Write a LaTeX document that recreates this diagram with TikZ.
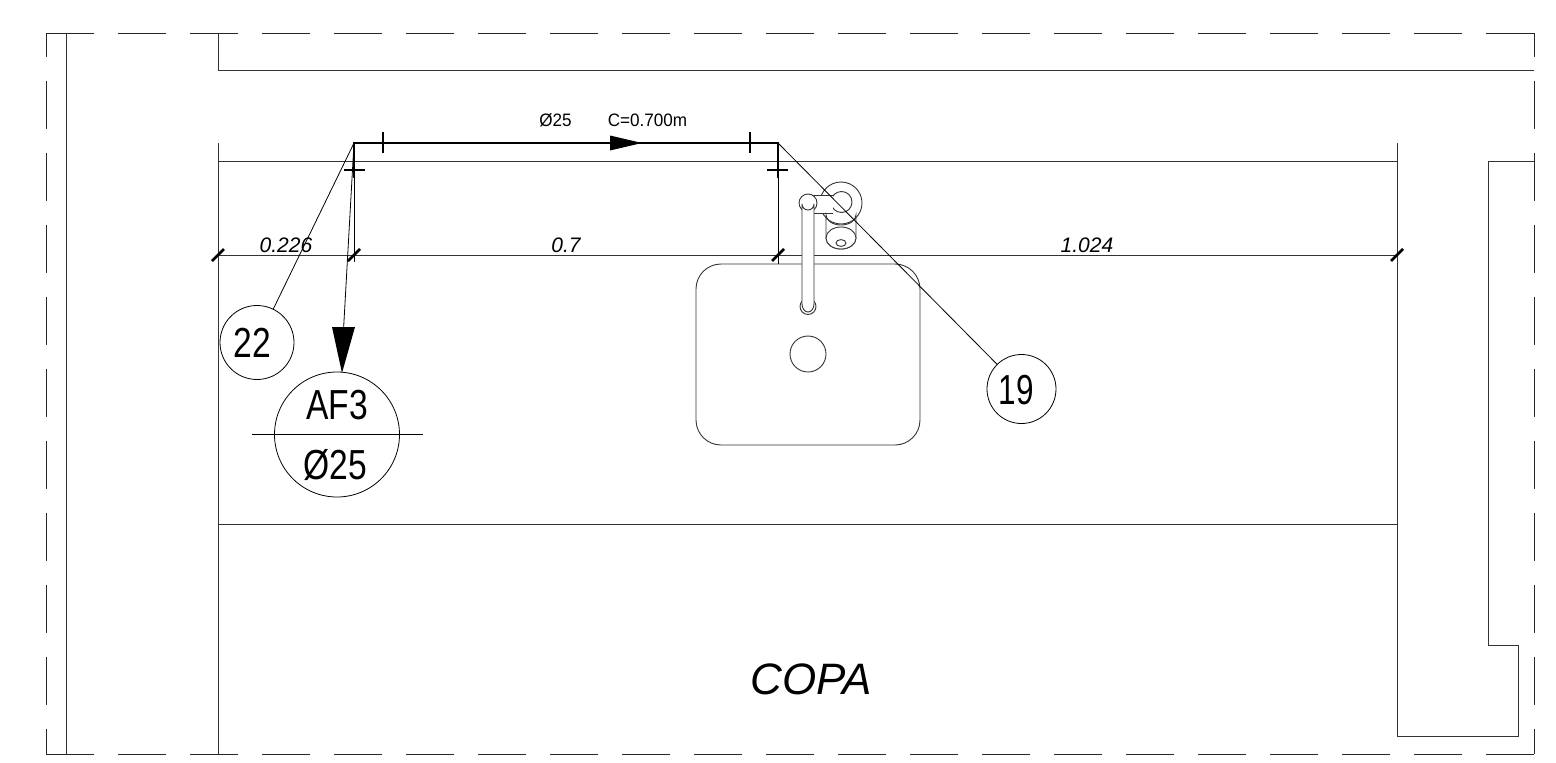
\documentclass[tikz,border=0pt]{standalone}
\usepackage{fontspec}
\setmainfont{Liberation Sans}
\usetikzlibrary{arrows.meta}
\newcommand{\cad}[3]{\scalebox{#1}[1]{\fontsize{#2}{#2}\selectfont #3}}
\tikzset{
  wall/.style={draw=black!80,line width=1pt},
  dashwall/.style={draw=black!85,line width=1pt,dash pattern=on 48pt off 24pt},
  pipe/.style={draw=black,line width=1.9pt},
  thin leader/.style={draw=black,line width=0.8pt},
  tick/.style={draw=black,line width=1.2pt},
  slash/.style={draw=black,line width=2.6pt},
  fixture/.style={draw=black!80,line width=0.9pt,fill=white},
  bubble/.style={circle,draw=black,line width=0.8pt,inner sep=0pt,fill=white},
  txt/.style={inner sep=0pt,text=black},
}
\begin{document}
\begin{tikzpicture}[x=1pt,y=-1pt]
\useasboundingbox (0,0) rectangle (1556,763);
\fill[white] (0,0) rectangle (1556,763);
% dashed outline
\draw[dashwall] (46,33) -- (1534,33);
\draw[dashwall] (46,754) -- (1534,754);
\draw[dashwall,dash phase=24pt] (46,33) -- (46,754);
\draw[dashwall,dash phase=24pt] (1534,33) -- (1534,754);
% walls
\draw[wall] (66,33) -- (66,754);
\draw[wall] (218,33) -- (218,70) -- (1534,70);
\draw[wall] (218,143) -- (218,754);
\draw[wall] (218,161) -- (1397,161);
\draw[wall] (218,524) -- (1397,524);
\draw[wall] (1397,143) -- (1397,736) -- (1518,736) -- (1518,645) -- (1488,645) -- (1488,161) -- (1534,161);
% sink
\draw[fixture,fill=none,rounded corners=25pt] (696,264) rectangle (920,445);
\node[circle,draw=black!80,line width=0.9pt,minimum size=36pt,inner sep=0pt] (drain) at (808,354) {};
% dimension line
\coordinate (d0) at (218,255);
\coordinate (d1) at (354,255);
\coordinate (d2) at (778,255);
\coordinate (d3) at (1397,255);
\draw[wall] (d0) -- (d3);
\foreach \p in {d0,d1,d2,d3}{\draw[slash] ([shift={(-6,6)}]\p) -- ([shift={(6,-6)}]\p);}
\node[txt] (t1) at (286,245) {\cad{1}{21}{\itshape 0.226}};
\node[txt] (t2) at (566,245) {\cad{1}{21}{\itshape 0.7}};
\node[txt] (t3) at (1087,245) {\cad{1}{21}{\itshape 1.024}};
% faucet
\draw[fixture] (841,203) circle (21);
\draw[fixture] (841.5,202) circle (10.5);
\fill[white] (812,195) rectangle (833,213);
\draw[fixture,fill=none] (812,195) -- (833,195);
\draw[fixture,fill=none] (812,213) -- (833,213);
\draw[fixture] (826,215) arc[start angle=180,end angle=0,x radius=15,y radius=10] -- (856,238) arc[start angle=360,end angle=180,x radius=15,y radius=-11] -- cycle;
\draw[fixture] (841,238) ellipse (15 and 11);
\draw[fixture] (841,243) ellipse (5 and 3.4);
\draw[fixture] (808,203) circle (9);
\draw[fixture] (808,306.5) circle (8);
\draw[fixture] (802,304) -- (802,204) arc[start angle=180,end angle=0,radius=6] -- (814,304) arc[start angle=0,end angle=-180,x radius=6,y radius=-8] -- cycle;
% pipe
\coordinate (pa) at (354,143);
\coordinate (pb) at (778,143);
\draw[pipe] (354,178) -- (pa) -- (pb) -- (778,178);
\draw[thin leader] (354,178) -- (354,262);
\draw[thin leader] (778,178) -- (778,264);
\draw[tick] (383,132) -- (383,153);
\draw[tick] (750,132) -- (750,153);
\draw[tick] (344,170) -- (365,170);
\draw[tick] (767,170) -- (788,170);
\coordinate (ar2) at (642,143);
\fill[black] (ar2) -- (610,135.5) -- (610,150.5) -- cycle;
\node[txt] (lab1) at (555.5,120) {\cad{0.95}{18}{Ø25}};
\node[txt] (lab2) at (647.5,120) {\cad{0.95}{18}{C=0.700m}};
% bubbles
\node[bubble,minimum size=74pt] (b22) at (257,342.5) {};
\node[txt] (t22) at (252.5,343) {\cad{0.8}{42}{22}};
\node[bubble,minimum size=69pt] (b19) at (1021.5,389) {};
\node[txt] (t19) at (1016.5,390) {\cad{0.75}{42}{19}};
\node[bubble,minimum size=125pt,fill=none] (baf) at (337,434.5) {};
\coordinate (afl) at (252,434);
\coordinate (afr) at (423,434);
\draw[thin leader] (afl) -- (afr);
\node[txt] (afa) at (337,405.5) {\cad{0.8}{42}{AF3}};
\node[txt] (afb) at (335.5,465) {\cad{0.8}{42}{Ø25}};
\draw[thin leader] (pa) -- (b22);
\draw[thin leader] (pb) -- (b19);
\coordinate (artip) at (342,373);
\draw[thin leader] (pa) -- (343.5,330);
\fill[black] (artip) -- (332,327) -- (355,327) -- cycle;
\node[txt] (copa) at (811,679) {\cad{1}{44}{\itshape COPA}};
\end{tikzpicture}
\end{document}
